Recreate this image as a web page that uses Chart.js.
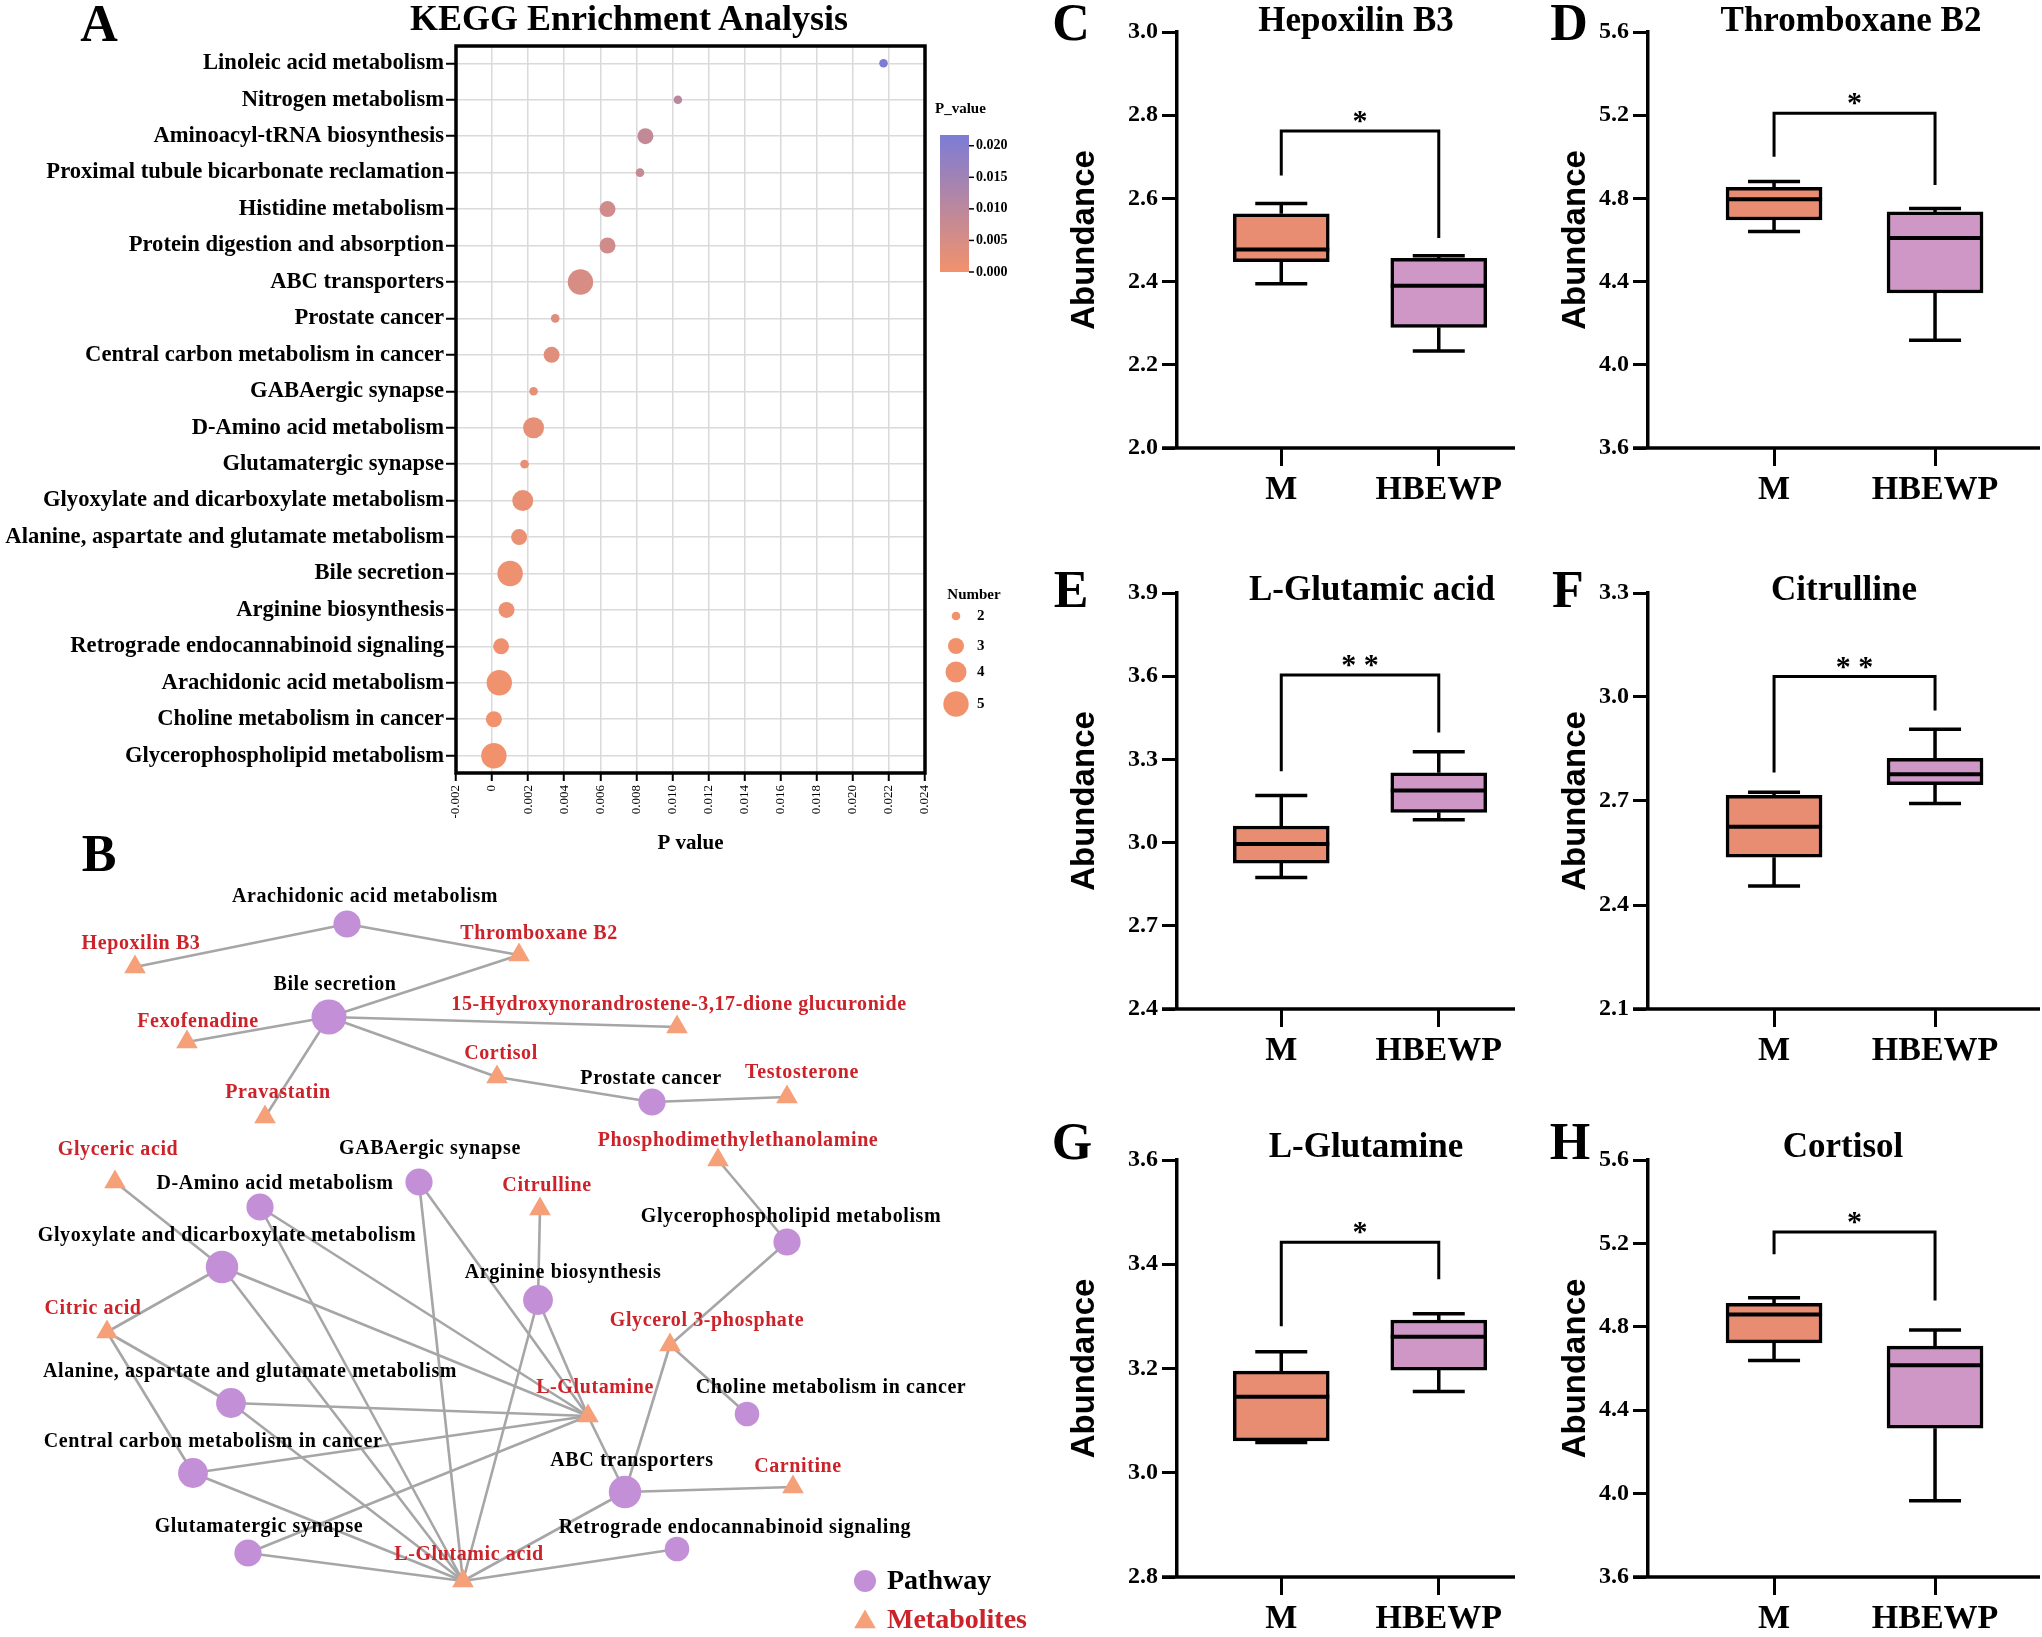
<!DOCTYPE html>
<html><head><meta charset="utf-8">
<script src="https://cdn.jsdelivr.net/npm/chart.js@4.4.1/dist/chart.umd.min.js"></script>
<style>
html,body{margin:0;padding:0;background:#fff;}
#fig{position:relative;width:2042px;height:1637px;overflow:hidden;background:#fff;}
canvas{position:absolute;}
.t{position:absolute;transform:translate(-50%,-50%);white-space:nowrap;line-height:1;font-family:'Liberation Serif','Times New Roman',serif;font-weight:bold;color:#000;}
</style></head><body><div id="fig"></div>
<script>
// ---------------- DATA ----------------
// Panel A: KEGG enrichment
const pathways = ['Linoleic acid metabolism','Nitrogen metabolism','Aminoacyl-tRNA biosynthesis','Proximal tubule bicarbonate reclamation','Histidine metabolism','Protein digestion and absorption','ABC transporters','Prostate cancer','Central carbon metabolism in cancer','GABAergic synapse','D-Amino acid metabolism','Glutamatergic synapse','Glyoxylate and dicarboxylate metabolism','Alanine, aspartate and glutamate metabolism','Bile secretion','Arginine biosynthesis','Retrograde endocannabinoid signaling','Arachidonic acid metabolism','Choline metabolism in cancer','Glycerophospholipid metabolism'];
const pValues = [0.0217,0.0103,0.0085,0.0082,0.0064,0.0064,0.0049,0.0035,0.0033,0.0023,0.0023,0.0018,0.0017,0.0015,0.0010,0.0008,0.0005,0.0004,0.0001,0.0001];
const hitCounts = [2,2,3,2,3,3,5,2,3,2,4,2,4,3,5,3,3,5,3,5];
const pAxisTicks = [-0.002,0,0.002,0.004,0.006,0.008,0.010,0.012,0.014,0.016,0.018,0.020,0.022,0.024];
const pColorTicks = [0.000,0.005,0.010,0.015,0.020];
const countLegend = [2,3,4,5];

// Panel B: network
const pathwayNodes = ['Arachidonic acid metabolism','Bile secretion','Prostate cancer','GABAergic synapse','D-Amino acid metabolism','Glyoxylate and dicarboxylate metabolism','Glycerophospholipid metabolism','Arginine biosynthesis','Alanine, aspartate and glutamate metabolism','Choline metabolism in cancer','Central carbon metabolism in cancer','ABC transporters','Glutamatergic synapse','Retrograde endocannabinoid signaling'];
const pathwayX = [347,329,652,419,260,222,787,538,231,747,193,625,248,677];
const pathwayY = [64,157,242,322,347,407,382,440,543,554,613,632,693,689];
const pathwayLabelX = [365,335,651,430,275,227,791,563,250,831,213,632,259,735];
const pathwayLabelY = [37,125,219,289,324,376,357,413,512,528,582,601,667,668];
const metaboliteNodes = ['Hepoxilin B3','Thromboxane B2','15-Hydroxynorandrostene-3,17-dione glucuronide','Fexofenadine','Cortisol','Testosterone','Pravastatin','Glyceric acid','Phosphodimethylethanolamine','Citrulline','Citric acid','Glycerol 3-phosphate','L-Glutamine','Carnitine','L-Glutamic acid'];
const metaboliteX = [135,519,677,187,497,787,265,115,718,540,107,670,588,793,463];
const metaboliteY = [107,95,167,182,217,237,257,322,300,349,472,485,556,627,721];
const metaboliteLabelX = [141,539,679,198,501,802,278,118,738,547,93,707,595,798,469];
const metaboliteLabelY = [84,74,145,162,194,213,233,290,281,326,449,461,528,607,695];
const networkEdges = [
 ['Arachidonic acid metabolism','Hepoxilin B3'],
 ['Arachidonic acid metabolism','Thromboxane B2'],
 ['Bile secretion','Thromboxane B2'],
 ['Bile secretion','Fexofenadine'],
 ['Bile secretion','15-Hydroxynorandrostene-3,17-dione glucuronide'],
 ['Bile secretion','Cortisol'],
 ['Bile secretion','Pravastatin'],
 ['Prostate cancer','Cortisol'],
 ['Prostate cancer','Testosterone'],
 ['Glyoxylate and dicarboxylate metabolism','Glyceric acid'],
 ['Glyoxylate and dicarboxylate metabolism','Citric acid'],
 ['Glyoxylate and dicarboxylate metabolism','L-Glutamine'],
 ['Glyoxylate and dicarboxylate metabolism','L-Glutamic acid'],
 ['Glycerophospholipid metabolism','Phosphodimethylethanolamine'],
 ['Glycerophospholipid metabolism','Glycerol 3-phosphate'],
 ['Choline metabolism in cancer','Glycerol 3-phosphate'],
 ['ABC transporters','Glycerol 3-phosphate'],
 ['ABC transporters','L-Glutamine'],
 ['ABC transporters','Carnitine'],
 ['ABC transporters','L-Glutamic acid'],
 ['Arginine biosynthesis','Citrulline'],
 ['Arginine biosynthesis','L-Glutamine'],
 ['Arginine biosynthesis','L-Glutamic acid'],
 ['D-Amino acid metabolism','L-Glutamine'],
 ['D-Amino acid metabolism','L-Glutamic acid'],
 ['GABAergic synapse','L-Glutamine'],
 ['GABAergic synapse','L-Glutamic acid'],
 ['Alanine, aspartate and glutamate metabolism','Citric acid'],
 ['Alanine, aspartate and glutamate metabolism','L-Glutamine'],
 ['Alanine, aspartate and glutamate metabolism','L-Glutamic acid'],
 ['Central carbon metabolism in cancer','Citric acid'],
 ['Central carbon metabolism in cancer','L-Glutamine'],
 ['Central carbon metabolism in cancer','L-Glutamic acid'],
 ['Glutamatergic synapse','L-Glutamine'],
 ['Glutamatergic synapse','L-Glutamic acid'],
 ['Retrograde endocannabinoid signaling','L-Glutamic acid']
];

// Panels C-H: box plots  [min, Q1, median, Q3, max]
const groups = ['M','HBEWP'];
const boxTitles = ['Hepoxilin B3','Thromboxane B2','L-Glutamic acid','Citrulline','L-Glutamine','Cortisol'];
const hepoxilinB3M = [2.395,2.448,2.477,2.563,2.588];
const hepoxilinB3H = [2.233,2.290,2.390,2.456,2.462];
const thromboxaneB2M = [4.641,4.696,4.796,4.853,4.881];
const thromboxaneB2H = [4.118,4.345,4.610,4.735,4.751];
const glutamicAcidM = [2.874,2.926,2.995,3.060,3.170];
const glutamicAcidH = [3.082,3.109,3.188,3.252,3.328];
const citrullineM = [2.455,2.538,2.626,2.716,2.725];
const citrullineH = [2.693,2.747,2.777,2.823,2.907];
const glutamineM = [3.058,3.061,3.146,3.195,3.232];
const glutamineH = [3.156,3.197,3.261,3.293,3.305];
const cortisolM = [4.638,4.723,4.859,4.912,4.939];
const cortisolH = [3.966,4.314,4.615,4.707,4.785];
// significance bracket [bar level, left leg end, right leg end]
const hepoxilinB3Sig = [2.762,2.655,2.505];
const thromboxaneB2Sig = [5.209,5.000,4.865];
const glutamicAcidSig = [3.604,3.257,3.397];
const citrullineSig = [3.059,2.782,2.961];
const glutamineSig = [3.442,3.281,3.371];
const cortisolSig = [5.255,5.148,4.926];
const sigMarks = ['*','*','* *','* *','*','*'];
// y tick labels
const hepoxilinB3Ticks = [2.0,2.2,2.4,2.6,2.8,3.0];
const thromboxaneB2Ticks = [3.6,4.0,4.4,4.8,5.2,5.6];
const glutamicAcidTicks = [2.4,2.7,3.0,3.3,3.6,3.9];
const citrullineTicks = [2.1,2.4,2.7,3.0,3.3];
const glutamineTicks = [2.8,3.0,3.2,3.4,3.6];
const cortisolTicks = [3.6,4.0,4.4,4.8,5.2,5.6];

// ---------------- HELPERS ----------------
const SERIF = "'Liberation Serif','Times New Roman',serif";
const SANS = "'Liberation Sans',Arial,sans-serif";
const fig = document.getElementById('fig');
function addCanvas(left, top, w, h) {
  const c = document.createElement('canvas');
  c.style.left = left + 'px'; c.style.top = top + 'px';
  c.style.width = w + 'px'; c.style.height = h + 'px';
  c.width = w; c.height = h;
  fig.appendChild(c);
  return c;
}
function addText(txt, cx, cy, size, color) {
  const d = document.createElement('div');
  d.className = 't'; d.textContent = txt;
  d.style.left = cx + 'px'; d.style.top = cy + 'px'; d.style.fontSize = size + 'px';
  if (color) d.style.color = color;
  fig.appendChild(d);
}
Chart.defaults.font.family = SERIF;
Chart.defaults.color = '#000';

// ---------------- PANEL A ----------------
const pMax = Math.max(...pValues);
const lowRGB = [242,146,108], highRGB = [124,124,214];
function pColor(v) {
  const t = Math.max(0, Math.min(1, v / pMax));
  return 'rgb(' + lowRGB.map((c, k) => Math.round(c + (highRGB[k] - c) * t)).join(',') + ')';
}
const countRadius = {2: 4.3, 3: 8, 4: 10.5, 5: 12.7};

const keggDecor = {
  id: 'keggDecor',
  afterDraw(chart) {
    const {ctx, chartArea: a} = chart;
    ctx.save();
    ctx.strokeStyle = '#000'; ctx.lineWidth = 3.5;
    ctx.strokeRect(a.left, a.top, a.right - a.left, a.bottom - a.top);
    // colour bar
    const bx = a.right + 15, bw = 29, bTop = a.top + 89, bBot = a.top + 226;
    const g = ctx.createLinearGradient(0, bBot, 0, bTop);
    g.addColorStop(0, pColor(0)); g.addColorStop(1, pColor(pMax));
    ctx.fillStyle = g; ctx.fillRect(bx, bTop, bw, bBot - bTop);
    ctx.fillStyle = '#000'; ctx.strokeStyle = '#000'; ctx.lineWidth = 1.5;
    ctx.font = 'bold 14px ' + SERIF; ctx.textBaseline = 'middle'; ctx.textAlign = 'left';
    pColorTicks.forEach(v => {
      const y = bBot - v / pMax * (bBot - bTop);
      ctx.beginPath(); ctx.moveTo(bx + bw, y); ctx.lineTo(bx + bw + 5, y); ctx.stroke();
      ctx.fillText(v.toFixed(3), bx + bw + 7, y);
    });
    ctx.font = 'bold 15px ' + SERIF;
    ctx.fillText('P_value', bx - 5, bTop - 26);
    // size legend
    ctx.textAlign = 'center';
    ctx.fillText('Number', a.right + 49, a.top + 549);
    const ly = [570, 600, 626, 658];
    countLegend.forEach((n, k) => {
      ctx.fillStyle = pColor(0);
      ctx.beginPath(); ctx.arc(a.right + 31, a.top + ly[k], countRadius[n], 0, Math.PI * 2); ctx.fill();
      ctx.fillStyle = '#000'; ctx.textAlign = 'left';
      ctx.fillText(String(n), a.right + 52, a.top + ly[k]);
    });
    ctx.restore();
  }
};

new Chart(addCanvas(0, 0, 1040, 860), {
  type: 'scatter',
  data: { datasets: [{
    data: pathways.map((p, i) => ({x: pValues[i], y: i})),
    pointRadius: c => countRadius[hitCounts[c.dataIndex]],
    pointHoverRadius: c => countRadius[hitCounts[c.dataIndex]],
    backgroundColor: c => pColor(pValues[c.dataIndex]),
    borderWidth: 0
  }]},
  options: {
    responsive: false, maintainAspectRatio: false, animation: false,
    layout: {autoPadding: false, padding: {left: 0, top: 46, right: 115, bottom: 0}},
    plugins: {legend: {display: false}, tooltip: {enabled: false}},
    scales: {
      x: {
        type: 'linear', min: -0.002, max: 0.024,
        afterBuildTicks: s => { s.ticks = pAxisTicks.map(v => ({value: v})); },
        afterFit: s => { s.height = 87; },
        ticks: {autoSkip: false, minRotation: 90, maxRotation: 90, padding: 4,
          font: {size: 13, family: SERIF}, color: '#000',
          callback: (v, i) => pAxisTicks[i] === 0 ? '0' : pAxisTicks[i].toFixed(3)},
        grid: {color: '#DADADA', lineWidth: 1.5, tickColor: '#000', tickLength: 8, tickWidth: 2},
        border: {display: false},
        title: {display: true, text: 'P value', color: '#000', font: {size: 21, weight: 'bold', family: SERIF}, padding: {top: 0, bottom: 4}}
      },
      y: {
        type: 'linear', min: -0.475, max: 19.475, reverse: true,
        afterBuildTicks: s => { s.ticks = pathways.map((p, i) => ({value: i})); },
        afterFit: s => { s.width = 456; },
        ticks: {autoSkip: false, padding: 2, font: {size: 22.6, weight: 'bold', family: SERIF}, color: '#000',
          callback: (v, i) => pathways[i]},
        grid: {color: '#DADADA', lineWidth: 1.5, tickColor: '#000', tickLength: 10, tickWidth: 2},
        border: {display: false}
      }
    }
  },
  plugins: [keggDecor]
});

// ---------------- PANEL B ----------------
const nodeLookup = {};
pathwayNodes.forEach((n, i) => { nodeLookup[n] = {x: pathwayX[i], y: pathwayY[i]}; });
metaboliteNodes.forEach((n, i) => { nodeLookup[n] = {x: metaboliteX[i], y: metaboliteY[i]}; });
const pathwayDegree = pathwayNodes.map(n => networkEdges.filter(e => e[0] === n).length);
const PATH_COLOR = '#C38FD6', MET_COLOR = '#F5A079', MET_TEXT = '#CC2229';
const edgeSets = networkEdges.map(([a, b]) => ({
  data: [{...nodeLookup[a]}, {...nodeLookup[b]}],
  showLine: true, borderColor: '#A6A6A6', borderWidth: 2.6, pointRadius: 0, pointHoverRadius: 0, order: 2
}));
const netDecor = {
  id: 'netDecor',
  afterDatasetsDraw(chart) {
    const {ctx, scales: {x, y}} = chart;
    ctx.save();
    ctx.font = 'bold 20px ' + SERIF;
    ctx.letterSpacing = '0.6px';
    ctx.textAlign = 'center'; ctx.textBaseline = 'middle';
    ctx.fillStyle = '#000';
    pathwayNodes.forEach((n, i) => ctx.fillText(n, x.getPixelForValue(pathwayLabelX[i]), y.getPixelForValue(pathwayLabelY[i])));
    ctx.fillStyle = MET_TEXT;
    metaboliteNodes.forEach((n, i) => ctx.fillText(n, x.getPixelForValue(metaboliteLabelX[i]), y.getPixelForValue(metaboliteLabelY[i])));
    // legend
    ctx.letterSpacing = '0px';
    ctx.font = 'bold 28px ' + SERIF; ctx.textAlign = 'left';
    ctx.fillStyle = PATH_COLOR;
    ctx.beginPath(); ctx.arc(865, 721, 11, 0, Math.PI * 2); ctx.fill();
    ctx.fillStyle = '#000'; ctx.fillText('Pathway', 887, 722);
    ctx.fillStyle = MET_COLOR;
    const r = 12.5, cx = 865, cy = 762;
    ctx.beginPath(); ctx.moveTo(cx, cy - r); ctx.lineTo(cx + r * 0.866, cy + r / 2); ctx.lineTo(cx - r * 0.866, cy + r / 2); ctx.closePath(); ctx.fill();
    ctx.fillStyle = MET_TEXT; ctx.fillText('Metabolites', 887, 761);
    ctx.restore();
  }
};
new Chart(addCanvas(0, 860, 1040, 777), {
  type: 'scatter',
  data: { datasets: [
    {label: 'Pathway', data: pathwayNodes.map((n, i) => ({x: pathwayX[i], y: pathwayY[i]})),
     pointStyle: 'circle', pointRadius: pathwayDegree.map(d => 11 + 1.3 * d), pointHoverRadius: pathwayDegree.map(d => 11 + 1.3 * d),
     backgroundColor: PATH_COLOR, borderWidth: 0, order: 0},
    {label: 'Metabolites', data: metaboliteNodes.map((n, i) => ({x: metaboliteX[i], y: metaboliteY[i]})),
     pointStyle: 'triangle', pointRadius: 12.5, pointHoverRadius: 12.5, backgroundColor: MET_COLOR, borderWidth: 0, order: 1},
    ...edgeSets
  ]},
  options: {
    responsive: false, maintainAspectRatio: false, animation: false,
    layout: {autoPadding: false, padding: 0},
    plugins: {legend: {display: false}, tooltip: {enabled: false}},
    scales: {
      x: {type: 'linear', display: false, min: 0, max: 1040},
      y: {type: 'linear', display: false, min: 0, max: 777, reverse: true}
    }
  },
  plugins: [netDecor]
});

// ---------------- PANELS C-H ----------------
const boxStats = [[hepoxilinB3M, hepoxilinB3H],[thromboxaneB2M, thromboxaneB2H],[glutamicAcidM, glutamicAcidH],[citrullineM, citrullineH],[glutamineM, glutamineH],[cortisolM, cortisolH]];
const boxSig = [hepoxilinB3Sig, thromboxaneB2Sig, glutamicAcidSig, citrullineSig, glutamineSig, cortisolSig];
const boxTicks = [hepoxilinB3Ticks, thromboxaneB2Ticks, glutamicAcidTicks, citrullineTicks, glutamineTicks, cortisolTicks];
const BOX_FILL = ['#E88D72', '#CE97C5'];
// column layout (pixels): canvas left, canvas width, right padding, x-range, y-title padding
const colLeft = [1040, 1511], colWidth = [520, 531], colPadRight = [45, 2];
const colXMin = [0.338, 0.217], colXMax = [2.484, 2.652], colTitlePad = [25, 45];
const rowTop = [32, 593, 1160], rowBottom = [448, 1009, 1577];
const Y_AXIS_W = 137, X_AXIS_H = 60, TOP_PAD = 32;

function boxPlugin(p) {
  return {
    id: 'boxDecor' + p,
    afterDatasetsDraw(chart) {
      const {ctx, chartArea: a, scales: {x, y}} = chart;
      ctx.save();
      ctx.strokeStyle = '#000'; ctx.lineCap = 'butt';
      ctx.lineWidth = 3.5;
      ctx.beginPath(); ctx.moveTo(a.left - 15, a.bottom); ctx.lineTo(a.right, a.bottom); ctx.stroke();
      boxStats[p].forEach((s, i) => {
        const cx = x.getPixelForValue(i + 1);
        const [mn, q1, md, q3, mx] = s.map(v => y.getPixelForValue(v));
        ctx.lineWidth = 3.5;
        ctx.beginPath();
        ctx.moveTo(cx, q1); ctx.lineTo(cx, mn);
        ctx.moveTo(cx, q3); ctx.lineTo(cx, mx);
        ctx.moveTo(cx - 26, mn); ctx.lineTo(cx + 26, mn);
        ctx.moveTo(cx - 26, mx); ctx.lineTo(cx + 26, mx);
        ctx.stroke();
        ctx.lineWidth = 4;
        ctx.beginPath(); ctx.moveTo(cx - 48, md); ctx.lineTo(cx + 48, md); ctx.stroke();
      });
      const [lvl, lEnd, rEnd] = boxSig[p].map(v => y.getPixelForValue(v));
      const xl = x.getPixelForValue(1), xr = x.getPixelForValue(2);
      ctx.lineWidth = 3;
      ctx.beginPath(); ctx.moveTo(xl, lEnd); ctx.lineTo(xl, lvl); ctx.lineTo(xr, lvl); ctx.lineTo(xr, rEnd); ctx.stroke();
      ctx.fillStyle = '#000'; ctx.font = 'bold 30px ' + SERIF;
      ctx.textAlign = 'center'; ctx.textBaseline = 'alphabetic';
      ctx.fillText(sigMarks[p], (xl + xr) / 2, lvl - 1);
      ctx.restore();
    }
  };
}

boxTitles.forEach((title, p) => {
  const col = p % 2, row = Math.floor(p / 2);
  const top = rowTop[row] - TOP_PAD;
  const h = rowBottom[row] - rowTop[row] + TOP_PAD + X_AXIS_H;
  const ticks = boxTicks[p];
  new Chart(addCanvas(colLeft[col], top, colWidth[col], h), {
    type: 'bar',
    data: { datasets: [{
      data: boxStats[p].map((s, i) => ({x: i + 1, y: [s[1], s[3]]})),
      backgroundColor: BOX_FILL, borderColor: '#000', borderWidth: 3.5, borderSkipped: false,
      barThickness: 96
    }]},
    options: {
      responsive: false, maintainAspectRatio: false, animation: false,
      layout: {autoPadding: false, padding: {left: 0, top: TOP_PAD, right: colPadRight[col], bottom: 0}},
      plugins: {legend: {display: false}, tooltip: {enabled: false}},
      scales: {
        x: {
          type: 'linear', min: colXMin[col], max: colXMax[col], offset: false,
          afterBuildTicks: s => { s.ticks = groups.map((g, i) => ({value: i + 1})); },
          afterFit: s => { s.height = X_AXIS_H; },
          ticks: {autoSkip: false, maxRotation: 0, padding: 4, font: {size: 34, weight: 'bold', family: SERIF}, color: '#000',
            callback: (v, i) => groups[i]},
          grid: {display: true, offset: false, drawOnChartArea: false, drawTicks: true, tickLength: 18, tickWidth: 3, tickColor: '#000'},
          border: {display: false}
        },
        y: {
          type: 'linear', min: ticks[0], max: ticks[ticks.length - 1],
          afterBuildTicks: s => { s.ticks = ticks.map(v => ({value: v})); },
          afterFit: s => { s.width = Y_AXIS_W; },
          ticks: {autoSkip: false, padding: 4, font: {size: 24, weight: 'bold', family: SERIF}, color: '#000',
            callback: (v, i) => ticks[i].toFixed(1)},
          grid: {display: true, offset: false, drawOnChartArea: false, drawTicks: true, tickLength: 15, tickWidth: 3, tickColor: '#000'},
          border: {display: true, color: '#000', width: 3.5},
          title: {display: true, text: 'Abundance', color: '#000', font: {size: 33, weight: 'bold', family: SANS}, padding: {top: colTitlePad[col], bottom: 0}}
        }
      }
    },
    plugins: [boxPlugin(p)]
  });
});

// ---------------- TITLES & PANEL LETTERS ----------------
addText('KEGG Enrichment Analysis', 629, 18, 36);
const boxTitlePos = [[1356, 19], [1851, 19], [1372, 588], [1844, 588], [1366, 1145], [1843, 1145]];
boxTitles.forEach((t, p) => addText(t, boxTitlePos[p][0], boxTitlePos[p][1], 35));
const letters = [['A', 99, 24], ['B', 99, 854], ['C', 1071, 23], ['D', 1569, 23], ['E', 1071, 590], ['F', 1568, 590], ['G', 1072, 1142], ['H', 1570, 1142]];
letters.forEach(([l, x, y]) => addText(l, x, y, 52));
</script></body></html>
